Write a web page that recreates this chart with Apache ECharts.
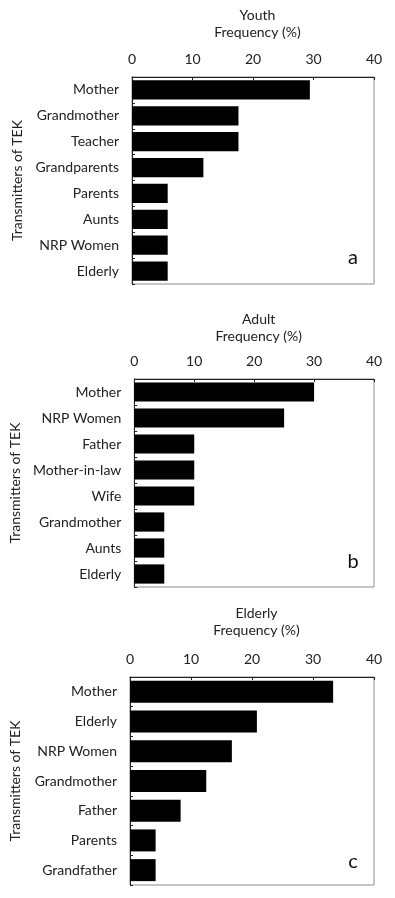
<!DOCTYPE html>
<html>
<head>
<meta charset="utf-8">
<script src="https://cdn.jsdelivr.net/npm/echarts@6/dist/echarts.min.js"></script>
<style>
    html, body { margin: 0; padding: 0; background: #fff; }
    #chart { width: 395px; height: 898px; }
</style>
</head>
<body>
<div id="chart"></div>
<script>
// panel a: youth
var youthCats = ['Mother', 'Grandmother', 'Teacher', 'Grandparents', 'Parents', 'Aunts', 'NRP Women', 'Elderly'];
var youthVals = [29.4, 17.6, 17.6, 11.8, 5.9, 5.9, 5.9, 5.9];
// panel b: adult
var adultCats = ['Mother', 'NRP Women', 'Father', 'Mother-in-law', 'Wife', 'Grandmother', 'Aunts', 'Elderly'];
var adultVals = [30, 25, 10, 10, 10, 5, 5, 5];
// panel c: elderly
var elderCats = ['Mother', 'Elderly', 'NRP Women', 'Grandmother', 'Father', 'Parents', 'Grandfather'];
var elderVals = [33.3, 20.8, 16.7, 12.5, 8.3, 4.2, 4.2];

var panelNames = ['Youth', 'Adult', 'Elderly'];
var panelLetters = ['a', 'b', 'c'];
var freqTicks = [0, 10, 20, 30, 40];

var FONT = 'Lato';
var chart = echarts.init(document.getElementById('chart'));

var grids = [
    {left: 132, right: 21, top: 77, height: 207},
    {left: 132, right: 21, top: 379, height: 208},
    {left: 130, right: 21, top: 677, height: 208}
];
var titleGaps = [36, 34, 38];

var cats = [youthCats, adultCats, elderCats];
var vals = [youthVals, adultVals, elderVals];

var xAxes = [], yAxes = [], series = [];
for (var i = 0; i < 3; i++) {
    xAxes.push({
        gridIndex: i,
        type: 'value',
        position: 'top',
        min: freqTicks[0],
        max: freqTicks[freqTicks.length - 1],
        interval: 10,
        name: panelNames[i] + '\nFrequency (%)',
        nameLocation: 'middle',
        nameGap: titleGaps[i],
        nameTextStyle: {fontFamily: FONT, fontSize: 14, color: '#222', lineHeight: 17, padding: [0, 0, 0, 9]},
        axisLine: {show: true, lineStyle: {color: '#222', width: 1}},
        axisTick: {show: true, inside: true, length: 3, lineStyle: {color: '#222'}},
        axisLabel: {fontFamily: FONT, fontSize: 14, color: '#222', margin: 11},
        splitLine: {show: false}
    });
    yAxes.push({
        gridIndex: i,
        type: 'category',
        inverse: true,
        data: cats[i],
        name: 'Transmitters of TEK',
        nameLocation: 'middle',
        nameGap: 108,
        nameRotate: 90,
        nameTextStyle: {fontFamily: FONT, fontSize: 14, color: '#222'},
        axisLine: {show: true, lineStyle: {color: '#222', width: 1}},
        axisTick: {show: true, inside: true, length: 3, lineStyle: {color: '#222'}},
        axisLabel: {fontFamily: FONT, fontSize: 14, color: '#222', margin: 13}
    });
    series.push({
        type: 'bar',
        xAxisIndex: i,
        yAxisIndex: i,
        data: vals[i],
        barCategoryGap: '26%',
        itemStyle: {color: '#000'},
        silent: true
    });
}

var letterY = [258, 562, 862];
var graphics = [];
for (var j = 0; j < 3; j++) {
    graphics.push({
        type: 'text',
        x: 353,
        y: letterY[j],
        style: {text: panelLetters[j], font: '20px ' + FONT, fill: '#111', align: 'center', verticalAlign: 'middle'}
    });
}

chart.setOption({
    animation: false,
    backgroundColor: '#fff',
    grid: grids.map(function (g) {
        return Object.assign({show: true, borderColor: '#8a8a8a', borderWidth: 1, backgroundColor: 'transparent'}, g);
    }),
    xAxis: xAxes,
    yAxis: yAxes,
    series: series,
    graphic: graphics
});
</script>
</body>
</html>
